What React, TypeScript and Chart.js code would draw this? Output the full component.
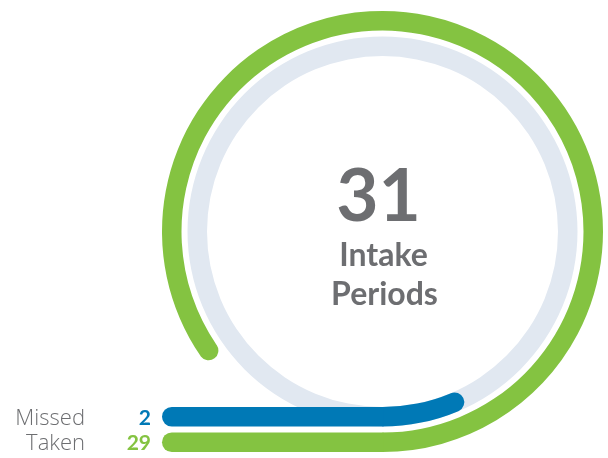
import React, { useEffect, useRef } from "react";
import { Chart, registerables } from "chart.js";

Chart.register(...registerables);

// ---- data ----
const categories = ["Missed", "Taken"];
const values = [2, 29];
const totalPeriods = 31;
const centerLines = ["Intake", "Periods"];
const fullTurn = [27.8, 34];

// ---- styles ----
const GREEN = "#84c341";
const BLUE = "#0079b6";
const TRACK = "#e1e8f1";
const TEXT = "#6d6e71";
const NONE = "rgba(0,0,0,0)";

export default function App() {
  const ref = useRef<HTMLCanvasElement>(null);

  useEffect(() => {
    const canvas = ref.current;
    if (!canvas) return;

    const capStart = (r: number) => (c: any) =>
      c.dataIndex === 1 ? { outerStart: r, innerStart: r, outerEnd: 0, innerEnd: 0 } : 0;

    const ringGeom = (chart: any, idx: number) => {
      const el: any = chart.getDatasetMeta(idx).data[0];
      return { x: el.x, y: el.y, inner: el.innerRadius, outer: el.outerRadius };
    };

    const decor = {
      id: "decor",
      beforeDatasetsDraw(chart: any) {
        const ctx = chart.ctx;
        const g = ringGeom(chart, 2);
        ctx.save();
        ctx.fillStyle = TRACK;
        ctx.beginPath();
        ctx.arc(g.x, g.y, g.outer, 0, Math.PI * 2);
        ctx.arc(g.x, g.y, g.inner, Math.PI * 2, 0, true);
        ctx.closePath();
        ctx.fill();
        ctx.restore();
      },
      afterDatasetsDraw(chart: any) {
        const ctx = chart.ctx;
        const left = chart.chartArea.left;
        // lead-in bars: ring index 2 = Missed, 0 = Taken
        const rings = [
          { idx: 2, color: BLUE, cat: 0 },
          { idx: 0, color: GREEN, cat: 1 },
        ];
        ctx.save();
        for (const r of rings) {
          const g = ringGeom(chart, r.idx);
          const yTop = g.y + g.inner;
          const yBot = g.y + g.outer;
          const rad = (yBot - yTop) / 2;
          const yMid = (yTop + yBot) / 2;
          ctx.fillStyle = r.color;
          ctx.beginPath();
          ctx.moveTo(g.x + 1, yTop);
          ctx.lineTo(left + rad, yTop);
          ctx.arc(left + rad, yMid, rad, -Math.PI / 2, Math.PI / 2, true);
          ctx.lineTo(g.x + 1, yBot);
          ctx.closePath();
          ctx.fill();

          const base = yMid + 7.8;
          ctx.textAlign = "right";
          ctx.textBaseline = "alphabetic";
          ctx.fillStyle = TEXT;
          ctx.font = "300 22px 'Open Sans'";
          ctx.fillText(categories[r.cat], 85, base);
          ctx.fillStyle = r.color;
          ctx.font = "bold 21px Lato";
          ctx.fillText(String(values[r.cat]), 151, base);
        }

        const g = ringGeom(chart, 0);
        ctx.textAlign = "center";
        ctx.fillStyle = TEXT;
        ctx.font = "bold 73px Lato";
        ctx.fillText(String(totalPeriods), g.x - 4, 221);
        ctx.font = "bold 32px Lato";
        ctx.fillText(centerLines[0], g.x + 1, 266);
        ctx.fillText(centerLines[1], g.x + 2, 305);
        ctx.restore();
      },
    };

    const chart = new Chart(canvas, {
      type: "doughnut",
      data: {
        labels: ["rest", "value"],
        datasets: [
          {
            label: categories[1],
            data: [fullTurn[1] - values[1], values[1]],
            backgroundColor: [NONE, GREEN],
            borderRadius: capStart(9.75) as any,
            weight: 19.5,
          },
          {
            label: "gap",
            data: [1],
            backgroundColor: [NONE],
            weight: 6,
          },
          {
            label: categories[0],
            data: [fullTurn[0] - values[0], values[0]],
            backgroundColor: [NONE, BLUE],
            borderRadius: capStart(9.75) as any,
            weight: 19.5,
          },
        ] as any,
      },
      options: {
        responsive: false,
        animation: false,
        events: [],
        rotation: 180,
        circumference: 360,
        cutout: "79.59%",
        layout: { padding: { left: 162, top: 11, right: 5, bottom: 6 } },
        elements: {
          arc: { borderWidth: 0, hoverBorderWidth: 0, offset: 0, hoverOffset: 0 } as any,
        },
        plugins: {
          legend: { display: false },
          tooltip: { enabled: false },
        },
      },
      plugins: [decor],
    });

    return () => chart.destroy();
  }, []);

  return (
    <div style={{ position: "absolute", left: 0, top: 0, width: 608, height: 458, background: "#fff" }}>
      <canvas ref={ref} width={608} height={458} style={{ display: "block" }} />
    </div>
  );
}
